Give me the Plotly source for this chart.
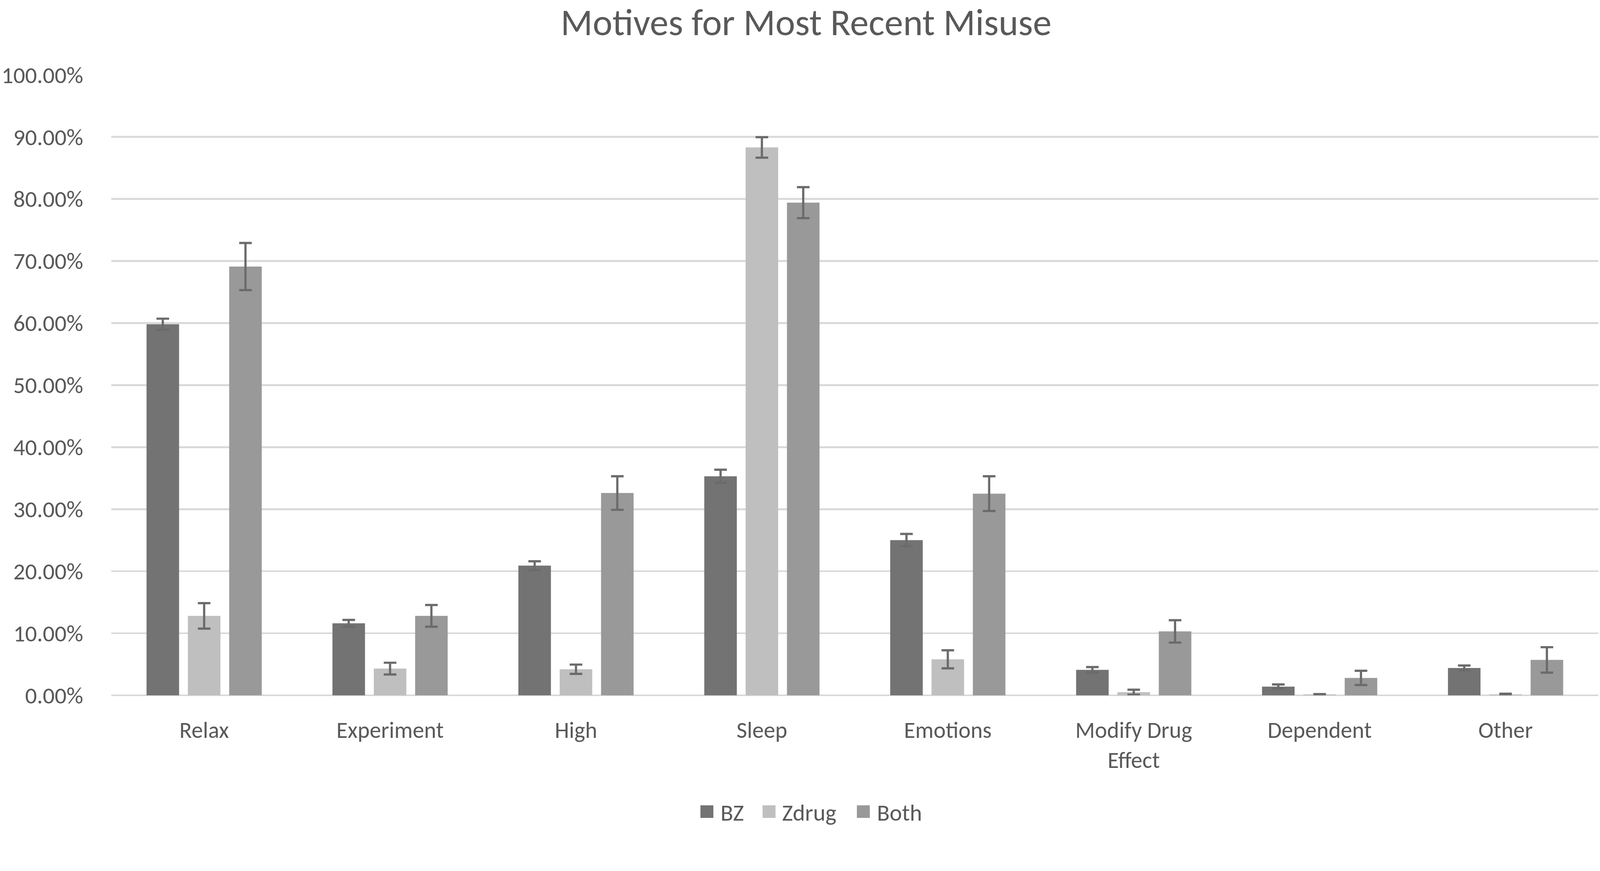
import plotly.graph_objects as go

categories = ["Relax", "Experiment", "High", "Sleep", "Emotions", "Modify Drug<br>Effect", "Dependent", "Other"]
bz = [59.8, 11.6, 20.9, 35.3, 25.0, 4.1, 1.4, 4.4]
bz_err = [0.9, 0.55, 0.7, 1.05, 1.0, 0.45, 0.35, 0.4]
zdrug = [12.8, 4.3, 4.2, 88.3, 5.8, 0.5, 0.15, 0.15]
zdrug_err = [2.05, 0.95, 0.75, 1.65, 1.45, 0.4, 0.05, 0.1]
both = [69.1, 12.8, 32.6, 79.4, 32.5, 10.3, 2.8, 5.7]
both_err = [3.8, 1.75, 2.7, 2.5, 2.8, 1.8, 1.15, 2.05]
series_names = ["BZ", "Zdrug", "Both"]
series_colors = ["#737373", "#bfbfbf", "#999999"]
tick_vals = [0, 10, 20, 30, 40, 50, 60, 70, 80, 90, 100]
tick_text = ["0.00%", "10.00%", "20.00%", "30.00%", "40.00%", "50.00%",
             "60.00%", "70.00%", "80.00%", "90.00%", "100.00%"]

W, H = 4317, 2231
L, R, T, B = 292, 4313, 202, 1877  # plot area edges in px
FONT = "Carlito, Lato, sans-serif"
TXT = "#595959"
ERR = "#6b6b6b"
FS = 63


def px(X):
    return (X - L) / (R - L)


def py(Y):
    return (B - Y) / (B - T)


fig = go.Figure()
for name, vals, errs, col in zip(series_names, [bz, zdrug, both], [bz_err, zdrug_err, both_err], series_colors):
    fig.add_trace(go.Bar(
        name=name, x=categories, y=vals, marker=dict(color=col, line=dict(width=0)),
        error_y=dict(type="data", array=errs, visible=True, color=ERR, thickness=6, width=17),
        showlegend=False,
    ))

# manual legend (larger square swatches as in the reference)
legend_sq_x = [1885, 2053, 2308]
legend_txt_x = [1937, 2104, 2360]
legend_y = 2191
shapes = []
annotations = []
for name, col, sx, tx in zip(series_names, series_colors, legend_sq_x, legend_txt_x):
    shapes.append(dict(type="rect", xref="paper", yref="paper",
                       x0=px(sx), x1=px(sx + 35), y0=py(legend_y + 17), y1=py(legend_y - 17),
                       fillcolor=col, line=dict(width=0)))
    annotations.append(dict(text=name, xref="paper", yref="paper", x=px(tx), y=py(legend_y + 2),
                            xanchor="left", yanchor="middle", showarrow=False,
                            font=dict(family=FONT, size=FS, color=TXT)))

fig.update_layout(
    width=W, height=H,
    paper_bgcolor="white", plot_bgcolor="white",
    barmode="group", bargap=0.333, bargroupgap=0.2125,
    margin=dict(l=L, r=W - R, t=T, b=H - B, pad=0),
    title=dict(text="Motives for Most Recent Misuse", x=2175 / W, xanchor="center",
               y=1 - 60 / H, yanchor="middle",
               font=dict(family=FONT, size=101, color=TXT)),
    font=dict(family=FONT, size=FS, color=TXT),
    showlegend=False,
    shapes=shapes,
    annotations=annotations,
)
fig.update_yaxes(range=[0, 100], tickvals=tick_vals, ticktext=tick_text,
                 showgrid=True, gridcolor="#d9d9d9", gridwidth=5,
                 zeroline=True, zerolinecolor="#d9d9d9", zerolinewidth=5,
                 showline=False, ticks="outside", ticklen=62, tickcolor="rgba(0,0,0,0)",
                 tickfont=dict(family=FONT, size=FS, color=TXT))
fig.update_xaxes(showgrid=False, showline=False, ticks="outside", ticklen=40,
                 tickcolor="rgba(0,0,0,0)",
                 tickfont=dict(family=FONT, size=62, color=TXT))

post = """
document.body.style.margin='0';
document.body.style.overflow='hidden';
var d=document.getElementById('{plot_id}');
function fit(){
  var s=Math.min(window.innerWidth/%d, window.innerHeight/%d);
  d.style.transformOrigin='0 0';
  d.style.transform='scale('+s+')';
}
fit();
window.addEventListener('resize', fit);
""" % (W, H)

fig.write_html("out.html", post_script=post, config={"displayModeBar": False})
